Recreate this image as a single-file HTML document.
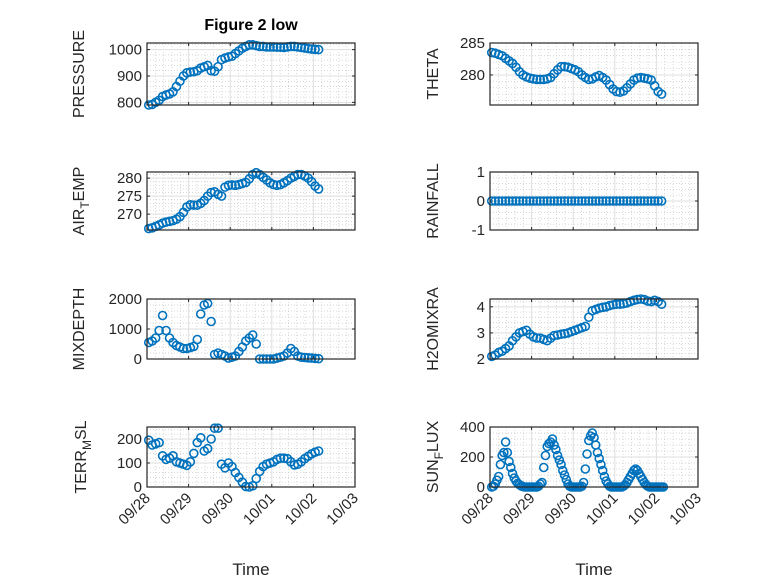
<!DOCTYPE html>
<html><head><meta charset="utf-8"><style>
html,body{margin:0;padding:0;background:#fff;}
svg{display:block;font-family:"Liberation Sans",sans-serif;}
</style></head><body>
<svg id="fig" width="778" height="583" viewBox="0 0 778 583" xmlns="http://www.w3.org/2000/svg">
<rect x="0" y="0" width="778" height="583" fill="#fff"/>
<text x="251" y="30" text-anchor="middle" font-size="16" font-weight="bold" fill="#000">Figure 2 low</text>
</svg>
<script>
const hours2 = [];
for (let h = 1; h <= 99; h += 2) hours2.push(h);
const hours1 = [];
for (let h = 1; h <= 100; h++) hours1.push(h);
const xTickLabels = ["09/28","09/29","09/30","10/01","10/02","10/03"];
const pressure = [790,792,800,808,822,828,832,840,860,880,900,912,915,916,920,930,935,940,920,918,935,962,968,972,975,985,995,1005,1012,1018,1018,1015,1012,1012,1010,1010,1010,1009,1009,1008,1010,1012,1012,1010,1008,1006,1004,1002,1001,1000];
const theta = [283.5,283.4,283.2,283,282.6,282.2,281.8,281.2,280.5,280,279.7,279.5,279.4,279.3,279.3,279.3,279.4,279.6,280.2,280.8,281.3,281.3,281.2,281,280.8,280.5,280,279.6,279.3,279.4,279.7,279.9,279.6,279.2,278.5,277.8,277.4,277.3,277.5,278,278.6,279.2,279.5,279.6,279.5,279.4,279.2,278.3,277.4,277];
const airTemp = [266,266.2,266.6,267,267.5,267.8,268,268.2,268.6,269.3,270.5,272,272.6,272.5,272.5,273,273.8,275,276,276.2,275.5,275,277.5,278,278.1,278,278.2,278.5,278.8,279.8,281,281.5,281,280.2,279.5,278.7,278.2,278,278.2,278.7,279.3,280,280.5,281,281,280.6,280,279,277.8,277];
const rainfall = [0,0,0,0,0,0,0,0,0,0,0,0,0,0,0,0,0,0,0,0,0,0,0,0,0,0,0,0,0,0,0,0,0,0,0,0,0,0,0,0,0,0,0,0,0,0,0,0,0,0];
const mixDepth = [550,600,700,950,1450,950,700,550,450,400,350,350,380,420,650,1500,1800,1850,1250,150,200,150,100,30,60,100,250,400,600,700,800,500,0,0,0,0,0,30,60,100,200,350,250,100,60,50,40,30,20,10];
const h2oMix = [2.1,2.15,2.25,2.3,2.4,2.5,2.7,2.85,3.0,3.05,3.1,2.95,2.85,2.8,2.8,2.75,2.7,2.8,2.9,2.92,2.95,2.97,3.0,3.05,3.1,3.15,3.2,3.25,3.6,3.85,3.9,3.95,3.98,4.0,4.05,4.08,4.1,4.1,4.12,4.15,4.2,4.25,4.28,4.3,4.28,4.22,4.2,4.25,4.2,4.1];
const terrMsl = [195,175,180,185,130,115,120,130,105,100,95,90,105,140,185,205,150,160,200,245,245,95,80,100,85,60,40,20,2,0,5,35,65,85,95,100,105,115,120,120,118,105,92,95,105,118,128,138,145,150];
const sunFlux = [0,5,20,45,70,150,210,230,300,230,170,130,90,60,40,25,15,8,3,0,0,0,0,0,0,0,0,5,20,30,130,210,270,290,300,320,280,250,210,180,150,110,80,50,20,5,0,0,0,0,0,0,5,30,120,220,310,340,360,330,280,230,190,150,110,70,40,20,5,0,0,0,0,0,0,0,5,15,30,50,70,90,110,120,110,90,70,50,30,15,5,0,0,0,0,0,0,0,0,0];

const svg = document.getElementById('fig');
const NS = 'http://www.w3.org/2000/svg';
function mk(tag, attrs, parent) {
  const e = document.createElementNS(NS, tag);
  for (const k in attrs) e.setAttribute(k, attrs[k]);
  (parent || svg).appendChild(e);
  return e;
}
const panels = [
  {key:'pressure', x:147, y:43, w:208, h:62, ymin:790, ymax:1025, ticks:[800,900,1000], label:['PRESSURE'], t:hours2, v:pressure, lx:84, bottom:false},
  {key:'theta', x:490, y:43, w:208, h:62, ymin:275.3, ymax:285, ticks:[280,285], label:['THETA'], t:hours2, v:theta, lx:438, bottom:false},
  {key:'air-temp', x:147, y:172, w:208, h:58, ymin:265.6, ymax:281.7, ticks:[270,275,280], label:['AIR','T','EMP'], t:hours2, v:airTemp, lx:84, bottom:false},
  {key:'rainfall', x:490, y:172, w:208, h:58, ymin:-1, ymax:1, ticks:[-1,0,1], label:['RAINFALL'], t:hours2, v:rainfall, lx:438, bottom:false},
  {key:'mixdepth', x:147, y:299, w:208, h:60, ymin:0, ymax:2000, ticks:[0,1000,2000], label:['MIXDEPTH'], t:hours2, v:mixDepth, lx:84, bottom:false},
  {key:'h2omixra', x:490, y:299, w:208, h:60, ymin:2, ymax:4.3, ticks:[2,3,4], label:['H2OMIXRA'], t:hours2, v:h2oMix, lx:438, bottom:false},
  {key:'terr-msl', x:147, y:427, w:208, h:60, ymin:0, ymax:250, ticks:[0,100,200], label:['TERR','M','SL'], t:hours2, v:terrMsl, lx:86, bottom:true},
  {key:'sun-flux', x:490, y:427, w:208, h:60, ymin:0, ymax:400, ticks:[0,200,400], label:['SUN','F','LUX'], t:hours1, v:sunFlux, lx:438, bottom:true}
];
const XMAX_DAYS = 5;
panels.forEach(p => {
  const g = mk('g', {});
  
  
  const xs = d => p.x + d / XMAX_DAYS * p.w;
  const ys = v => p.y + p.h - (v - p.ymin) / (p.ymax - p.ymin) * p.h;
  mk('rect', {x:p.x, y:p.y, width:p.w, height:p.h, fill:'#fff'}, g);
  for (let m = 0.2; m < XMAX_DAYS; m += 0.2) {
    if (Math.abs(m - Math.round(m)) < 1e-6) continue;
    mk('line', {x1:xs(m), x2:xs(m), y1:p.y, y2:p.y+p.h, stroke:'#c8c8c8', 'stroke-width':0.7, 'stroke-dasharray':'1,2'}, g);
  }
  const ts = p.ticks[1] - p.ticks[0];
  const mstep = ts / 5;
  for (let v = Math.ceil(p.ymin / mstep) * mstep; v <= p.ymax; v += mstep) {
    mk('line', {x1:p.x, x2:p.x+p.w, y1:ys(v), y2:ys(v), stroke:'#c8c8c8', 'stroke-width':0.7, 'stroke-dasharray':'1,2'}, g);
  }
  for (let d = 1; d < XMAX_DAYS; d++) mk('line', {x1:xs(d), x2:xs(d), y1:p.y, y2:p.y+p.h, stroke:'#dfdfdf', 'stroke-width':1}, g);
  p.ticks.forEach(v => {
    mk('line', {x1:p.x, x2:p.x+p.w, y1:ys(v), y2:ys(v), stroke:'#dfdfdf', 'stroke-width':1}, g);
    mk('line', {x1:p.x, x2:p.x+3, y1:ys(v), y2:ys(v), stroke:'#262626', 'stroke-width':1}, g);
    mk('line', {x1:p.x+p.w-3, x2:p.x+p.w, y1:ys(v), y2:ys(v), stroke:'#262626', 'stroke-width':1}, g);
    const tl = mk('text', {x:p.x-5, y:ys(v)+5, 'text-anchor':'end', 'font-size':15, fill:'#262626'}, g);
    tl.textContent = String(v);
    
    
  });
  for (let d = 0; d <= XMAX_DAYS; d++) {
    mk('line', {x1:xs(d), x2:xs(d), y1:p.y+p.h, y2:p.y+p.h-3, stroke:'#262626', 'stroke-width':1}, g);
    mk('line', {x1:xs(d), x2:xs(d), y1:p.y, y2:p.y+3, stroke:'#262626', 'stroke-width':1}, g);
  }
  const sg = mk('g', {fill:'none', stroke:'#0072BD', 'stroke-width':1.6}, g);
  
  
  p.v.forEach((v, i) => {
    const c = mk('circle', {cx:xs(p.t[i] / 24), cy:ys(v), r:4}, sg);
    
    
  });
  mk('rect', {x:p.x, y:p.y, width:p.w, height:p.h, fill:'none', stroke:'#262626', 'stroke-width':1.2}, g);
  const cy = p.y + p.h / 2;
  const yl = mk('text', {x:p.lx, y:cy, 'text-anchor':'middle', 'font-size':16, fill:'#262626', transform:'rotate(-90 ' + p.lx + ' ' + cy + ')'}, g);
  
  
  if (p.label.length === 1) yl.textContent = p.label[0];
  else {
    const a = mk('tspan', {}, yl); a.textContent = p.label[0];
    const b = mk('tspan', {'font-size':12, dy:5}, yl); b.textContent = p.label[1];
    const c = mk('tspan', {dy:-5}, yl); c.textContent = p.label[2];
  }
  if (p.bottom) {
    xTickLabels.forEach((lab, d) => {
      const tx = xs(d) + 4, ty = p.y + p.h + 12;
      const t = mk('text', {x:tx, y:ty, 'text-anchor':'end', 'font-size':15, fill:'#262626', transform:'rotate(-45 ' + tx + ' ' + ty + ')'}, g);
      t.textContent = lab;
      
      
    });
    const xt = mk('text', {x:p.x + p.w/2, y:575, 'text-anchor':'middle', 'font-size':17, fill:'#262626'}, g);
    xt.textContent = 'Time';
    
    
  }
});
</script>
</body></html>
